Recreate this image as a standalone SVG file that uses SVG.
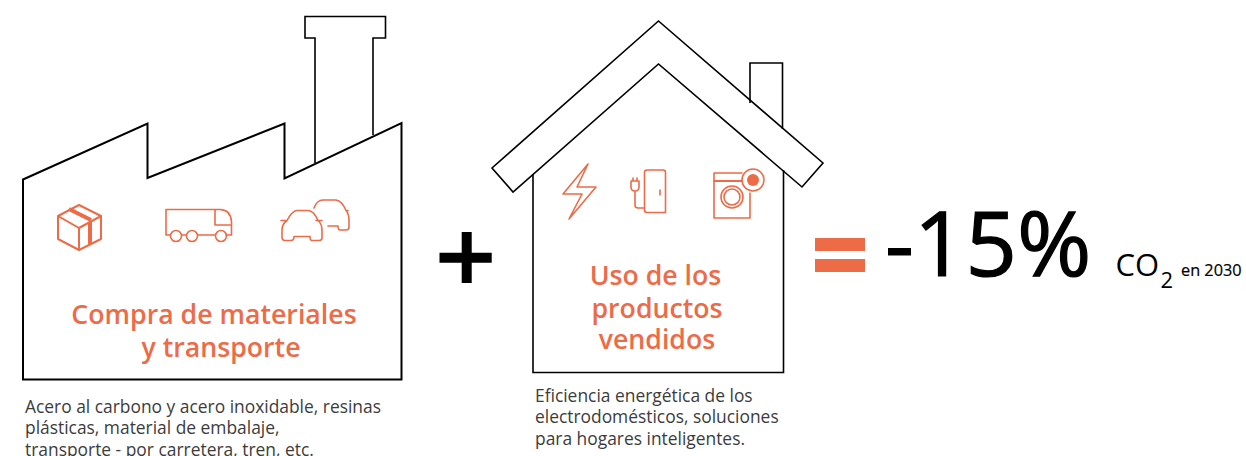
<svg xmlns="http://www.w3.org/2000/svg" width="1246" height="456" viewBox="0 0 1246 456">
<style>
text{font-family:"Open Sans","Noto Sans","Liberation Sans",sans-serif}
.o{fill:none;stroke:#000;stroke-width:2}
.f{fill:none;stroke:#000;stroke-width:1.6;stroke-linejoin:miter}
.i{fill:none;stroke:#ed6b47;stroke-width:1.6;stroke-linejoin:round;stroke-linecap:round}
.t{fill:#ed6b47;font-size:26.700px;font-weight:600;text-anchor:middle}
.d{fill:#3c3c3c;font-size:17.400px}
</style>
<rect width="1246" height="456" fill="#fff"/>
<g id="factory">
<path class="o" d="M23 379.500V179.500L147.500 123.500V178L284.500 123.500V178.500L401.500 123V379.500Z"/>
<path class="f" d="M315 163V38H305V16.500H385.500V38H373V135"/>
<g id="icon-box" class="i">
<path stroke-width="2" d="M58 216L79 205L101 216V239L79 250L58 239ZM58 216L79 228L101 216M79 228V250"/>
<path d="M69 209L91 220" stroke-width="4" stroke-linecap="butt"/>
<path d="M90 222V244" stroke-width="4" stroke-linecap="butt"/>
</g>
<g id="icon-truck" class="i">
<path d="M166 209.500H220Q231 210 231.500 222V235H226M166 209.500V235H170M182 235H186M198 235H215M215 209.500V225H231"/>
<circle cx="176" cy="236" r="5.500"/><circle cx="192" cy="236" r="5.500"/><circle cx="221" cy="236" r="5.500"/>
</g>
<g id="icon-cars" class="i">
<path d="M281 220.500H287M316 220.500H322M287 220.500Q292 211 297 210.500H308Q314 211 318 220.500Q322 224 322 230V238Q322 240.500 319 240.500H312Q310 240.500 310 236.500H294Q294 240.500 291 240.500H285Q282 240.500 282 237V230Q282 224 287 220.500Z"/>
<path d="M314 208Q317 200 323 200H336Q342 201 346 210.500H348M346 210.500Q349 214 349 220V227Q349 230 346 230H340Q338 230 338 226H328"/>
</g>
<text class="t" x="214" y="324">Compra de materiales</text>
<text class="t" x="221" y="357">y transporte</text>
<text class="d" x="25" y="413">Acero al carbono y acero inoxidable, resinas</text>
<text class="d" x="25" y="434">plásticas, material de embalaje,</text>
<text class="d" x="25" y="456">transporte - por carretera, tren, etc.</text>
</g>
<g id="plus"><path d="M439.500 257.700H491.700M466.700 232V283" stroke="#000" stroke-width="10" fill="none"/></g>
<g id="house">
<path class="f" d="M658.500 21L823 163L802 187L658.500 64L513 192L492 168Z"/>
<path class="f" d="M533 174V372.500H783.500V170M750 103V63H782.500V129"/>
<g id="icon-bolt" class="i"><path d="M588 164L563 194H582L569 219L596 187H577Z"/></g>
<g id="icon-fridge" class="i">
<path d="M647 170H663Q665.500 170 665.500 172.500V212.500H647Q644.500 212.500 644.500 210V172.500Q644.500 170 647 170ZM660 190V195"/>
<path d="M631 181H639V187Q639 191 635 191Q631 191 631 187ZM633 181V178M637 181V178M635 191V205Q635 208 638 208H644"/>
</g>
<g id="icon-washer" class="i">
<path d="M742 173H714V218H750V193"/><path d="M714 181H742" stroke-width="1.800"/>
<circle cx="732" cy="197" r="11"/><circle cx="732" cy="197" r="8"/>
<circle cx="753" cy="180" r="11"/><circle cx="753" cy="180" r="6" fill="#ed6b47" stroke="none"/>
</g>
<text class="t" x="655.500" y="285">Uso de los</text>
<text class="t" x="657" y="318">productos</text>
<text class="t" x="657" y="349">vendidos</text>
<text class="d" x="535" y="402">Eficiencia energética de los</text>
<text class="d" x="535" y="423">electrodomésticos, soluciones</text>
<text class="d" x="535" y="445">para hogares inteligentes.</text>
</g>
<g id="result">
<rect x="815" y="238" width="50" height="13" fill="#ed6b47"/>
<rect x="815" y="259" width="50" height="13" fill="#ed6b47"/>
<text x="885" y="276" font-size="90" stroke="#000" stroke-width="1.200" fill="#000">-15%</text>
<text x="1115.500" y="276" font-size="31" fill="#000">CO</text>
<text x="1160.500" y="288" font-size="22" fill="#000">2</text>
<text x="1181" y="276" font-size="16.300" stroke="#000" stroke-width=".2" fill="#000">en 2030</text>
</g>
</svg>
